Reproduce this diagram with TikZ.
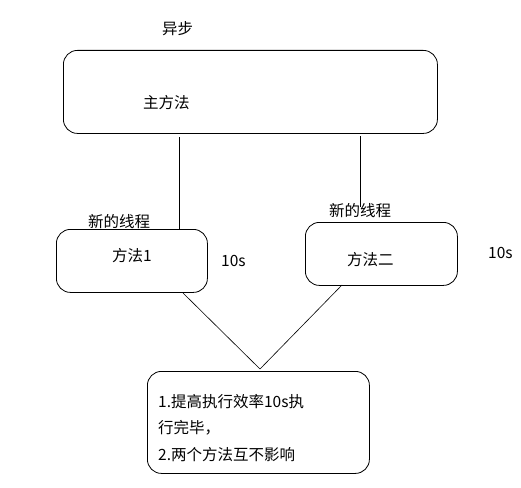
\documentclass[tikz,border=0pt]{standalone}
\usepackage{fontspec}
\setmainfont{Noto Sans CJK SC}
\begin{document}
\begin{tikzpicture}[x=1pt,y=-1pt,
  box/.style={draw,line width=0.8pt,rounded corners=14pt},
  lbl/.style={inner sep=0pt,anchor=west,font=\fontsize{15.5}{17}\selectfont},
  conn/.style={line width=0.6pt}]
\useasboundingbox[fill=white] (0,0) rectangle (521,487);
\node[box,minimum width=374pt,minimum height=83pt,anchor=north west] (main) at (63,50) {};
\node[box,minimum width=151pt,minimum height=63pt,anchor=north west] (m1) at (56,229) {};
\node[box,minimum width=152pt,minimum height=63pt,anchor=north west] (m2) at (305,222) {};
\node[box,minimum width=222pt,minimum height=102pt,anchor=north west] (res) at (147,371) {};
\node[lbl] (async) at (162,29) {异步};
\node[lbl] (mainlbl) at (143,103) {主方法};
\node[lbl] (t1) at (88,222) {新的线程};
\node[lbl] (t2) at (329,211) {新的线程};
\node[lbl] (f1) at (112,256) {方法1};
\node[lbl] (f2) at (347,260) {方法二};
\node[lbl] (s1) at (221,261) {10s};
\node[lbl] (s2) at (488,253) {10s};
\node[lbl] (r1) at (158,402) {1.提高执行效率10s执};
\node[lbl] (r2) at (158,428) {行完毕，};
\node[lbl] (r3) at (158,455) {2.两个方法互不影响};
\coordinate (a1) at (179,137);
\coordinate (a2) at (360,136);
\coordinate (b2) at (360,207);
\coordinate (c1) at (183,293);
\coordinate (c2) at (342,285);
\coordinate (meet) at (260,369);
\draw[conn] (a1) -- (m1.north -| a1);
\draw[conn] (a2) -- (b2);
\draw[conn] (c1) -- (meet);
\draw[conn] (c2) -- (meet);
\end{tikzpicture}
\end{document}
